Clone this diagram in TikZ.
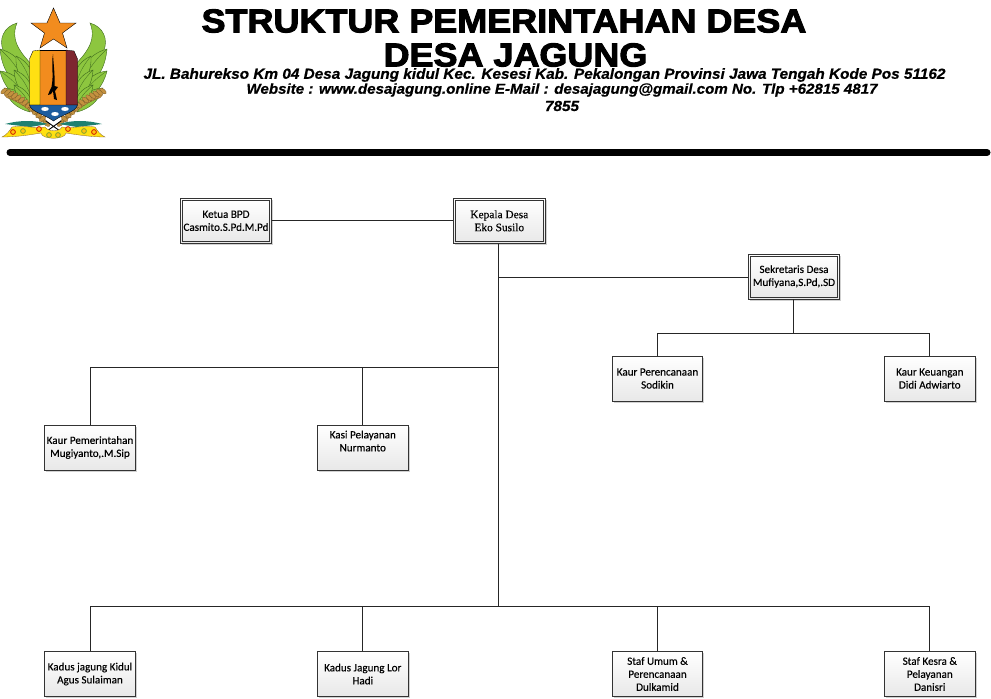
\documentclass[tikz,border=0pt]{standalone}
\usepackage{fontspec}
\setmainfont{Liberation Sans}
\newfontfamily\titlefont[FakeBold=3, FakeStretch=1.09]{Liberation Sans Bold}
\newfontfamily\addrfont[FakeBold=0.6, FakeStretch=1.05]{Liberation Sans Bold Italic}
\newfontfamily\boxfont[FakeBold=0.3]{Carlito}
\newfontfamily\headfont[FakeBold=0.3]{Liberation Serif}
\usetikzlibrary{positioning, shadows, calc}
\definecolor{wingGreen}{HTML}{8DC63F}
\definecolor{wingDark}{HTML}{3F6B1E}
\definecolor{starOrange}{HTML}{F28C1E}
\definecolor{shieldYellow}{HTML}{FFE012}
\definecolor{shieldRed}{HTML}{7E2630}
\definecolor{shieldBlue}{HTML}{1C5C9E}
\definecolor{riceTan}{HTML}{C4913F}
\definecolor{leafTeal}{HTML}{1E8070}

\begin{document}
\begin{tikzpicture}[
    x=1pt, y=-1pt,
    % Styles
    staff/.style={draw=black!80, line width=0.8pt, top color=white, bottom color=black!9,
        drop shadow={shadow xshift=1.6pt, shadow yshift=-1.6pt, fill=black!30, opacity=0.6},
        minimum width=90.5pt, minimum height=45pt, inner sep=0pt, align=center, text=black,
        font=\boxfont\fontsize{11.1}{13}\selectfont},
    head/.style={staff, minimum width=91.5pt, path picture={
        \draw[black!80, line width=0.8pt] ([shift={(2pt,2pt)}]path picture bounding box.south west)
            rectangle ([shift={(-2pt,-2pt)}]path picture bounding box.north east);}},
    link/.style={draw=black!85, line width=0.8pt},
    feather/.style={fill=wingGreen, draw=wingDark, line width=0.4pt},
    grain/.style={fill=riceTan, draw=riceTan!60!black, line width=0.25pt},
    flower/.style={fill=shieldYellow!70!orange, line width=0.7pt},
]
\useasboundingbox (0,0) rectangle (991,699);

% Title block
\node[font=\titlefont\fontsize{33}{36}\selectfont, inner sep=0pt] (title) at (504,21) {STRUKTUR PEMERINTAHAN DESA};
\node[font=\titlefont\fontsize{33}{36}\selectfont, inner sep=0pt] (village) at (515.5,55) {DESA JAGUNG};
\node[font=\addrfont\fontsize{14.6}{16}\selectfont, inner sep=0pt] (address) at (544.5,75) {JL. Bahurekso Km 04 Desa Jagung kidul Kec. Kesesi Kab. Pekalongan Provinsi Jawa Tengah Kode Pos 51162};
\node[font=\addrfont\fontsize{14.4}{16}\selectfont, inner sep=0pt] (website) at (562,90) {Website : www.desajagung.online E-Mail : desajagung@gmail.com No. Tlp +62815 4817};
\node[font=\addrfont\fontsize{14.6}{16}\selectfont, inner sep=0pt] (phone) at (562,106) {7855};

% Header rule
\draw[line width=7pt, line cap=round] (10,152.5) -- (987,152.5);

% Emblem: wings, drawn on the left and mirrored
\foreach \s in {1,-1} {
  \begin{scope}[shift={(53.5,0)}, xscale=\s, shift={(-53.5,0)}]
    \path[feather] (17,23) .. controls (3,27) and (-1,40) .. (3,50) .. controls (8,63) and (20,70) .. (33,66)
        .. controls (24,56) and (9,42) .. (17,23) -- cycle;
    \foreach \tx/\ty/\bx/\by in {0/49/28/92, 0/71/28/102, 4/88/30/112, 16/56/32/90, 14/70/32/100, 14/85/32/110} {
      \path[feather] (\tx,\ty) to[bend left=42] (\bx,\by) to[bend left=28] (\tx,\ty) -- cycle;
      \draw[wingDark, line width=0.3pt] (\tx,\ty) to[bend left=14] (\bx,\by);
    }
    \foreach \t in {0,...,11} {
      \path[grain, shift={({4+3.5*\t},{91+1.2*\t+0.12*\t*\t})}, rotate=40] (0,0) ellipse (4pt and 2pt);
      \path[grain, shift={({8+3.5*\t},{96+1.2*\t+0.12*\t*\t})}, rotate=-35] (0,0) ellipse (4pt and 2pt);
    }
  \end{scope}
}

% Emblem: star
\path[fill=starOrange, draw=black, line width=0.4pt] (53.5,8) -- (60,23) -- (76,23) -- (62.5,33) -- (67,48) -- (53.5,39) -- (40,48) -- (44.5,33) -- (31,23) -- (47,23) -- cycle;

% Emblem: shield
\path[fill=starOrange] (40,50) -- (66,50) -- (66,105) -- (40,105) -- cycle;
\path[fill=shieldYellow, draw=black, line width=0.35pt] (40,50) -- (33,51) -- (29.5,59) -- (29.5,105) -- (40,105) -- cycle;
\path[fill=shieldRed, draw=black, line width=0.35pt] (66,50) -- (74,51) -- (77.5,59) -- (77.5,105) -- (66,105) -- cycle;
\draw[line width=0.4pt] (40,50) -- (66,50);
\path[fill=shieldBlue, draw=black, line width=0.35pt] (29.5,105) -- (77.5,105) .. controls (76,112) and (63,114) .. (53.5,121) .. controls (44,114) and (31,112) .. (29.5,105) -- cycle;
\foreach \ax/\ay in {45/109, 65/109, 55/114} {
  \path[fill=white] (\ax,\ay) ellipse (3.8pt and 2pt);
}
% Emblem: keris
\path[fill=black] (53,54) .. controls (51,66) and (54,74) .. (51.5,87) .. controls (50,90) and (49,92) .. (48,95) -- (51,94) -- (53,91) -- (54,99) -- (57,100) -- (55,91) -- (58,87) -- (54.5,86) .. controls (55,72) and (53.5,65) .. (53,54) -- cycle;

% Emblem: ribbon and leaves
\path[fill=leafTeal] (5,124) .. controls (20,120) and (35,120) .. (48,124) -- (30,127) -- cycle;
\path[fill=leafTeal] (102,124) .. controls (87,120) and (72,120) .. (59,124) -- (77,127) -- cycle;
\draw[line width=0.9pt, line cap=round] (46,121) -- (60,131) (61,121) -- (47,131);
\path[fill=shieldYellow, draw=riceTan!70!black, line width=0.3pt] (2,137) .. controls (7,135) and (10,130) .. (12,127) .. controls (25,125) and (35,129) .. (45,127) .. controls (48,132) and (60,132) .. (62,127) .. controls (72,129) and (84,125) .. (95,127) .. controls (97,130) and (100,135) .. (105,137) .. controls (92,137) and (78,135) .. (66,133) .. controls (65,140) and (42,140) .. (41,133) .. controls (30,135) and (15,137) .. (2,137) -- cycle;
\foreach \fx/\fy/\fc in {13/132/red, 23/131/wingGreen, 39/129/red, 49/135/wingGreen, 58/135/wingGreen, 68/129/red, 84/131/wingGreen, 94/132/red} {
  \path[flower, draw=\fc!80!black] (\fx,\fy) circle (2.4pt);
}

% Head nodes
\node[head, font=\headfont\fontsize{11.4}{13}\selectfont] (kepala) at (499.3,220.8) {Kepala Desa\\Eko Susilo};
\node[head, left=181pt of kepala] (ketua) {Ketua BPD\\Casmito.S.Pd.M.Pd};
\node[head] (sekretaris) at (794,276.5) {Sekretaris Desa\\Mufiyana,S.Pd,.SD};

% Staff under the secretary
\node[staff] (perencanaan) at (657.5,378.5) {Kaur Perencanaan\\Sodikin};
\node[staff, right=181pt of perencanaan] (keuangan) {Kaur Keuangan\\Didi Adwiarto};

% Middle row
\node[staff] (pemerintahan) at (90,447.5) {Kaur Pemerintahan\\Mugiyanto,.M.Sip};
\node[staff, right=181.5pt of pemerintahan] (pelayanan) {Kasi Pelayanan\\Nurmanto\\\mbox{}};

% Bottom row
\node[staff] (kidul) at (90,674) {Kadus jagung Kidul\\Agus Sulaiman};
\node[staff, right=181.5pt of kidul] (lor) {Kadus Jagung Lor\\Hadi};
\node[staff] (umum) at (657.5,674) {Staf Umum \&\\Perencanaan\\Dulkamid};
\node[staff, right=181pt of umum] (kesra) {Staf Kesra \&\\Pelayanan\\Danisri};

% Bus junctions
\coordinate (secjoin) at (498.5,277);
\coordinate (midbus) at (498.5,367.5);
\coordinate (lowbus) at (498.5,606.5);
\coordinate (secbus) at (793.5,333.5);

% Connectors
\draw[link] (ketua) -- (kepala);
\draw[link] (kepala.south -| lowbus) -- (lowbus);
\draw[link] (secjoin) -- (sekretaris.west |- secjoin);
\draw[link] (sekretaris.south -| secbus) -- (secbus);
\draw[link] (secbus) -| (perencanaan.north);
\draw[link] (secbus) -| (keuangan.north);
\draw[link] (midbus) -| (pemerintahan.north);
\draw[link] (midbus) -| (pelayanan.north);
\draw[link] (lowbus) -| (kidul.north);
\draw[link] (lowbus) -| (lor.north);
\draw[link] (lowbus) -| (umum.north);
\draw[link] (lowbus) -| (kesra.north);

\end{tikzpicture}
\end{document}
